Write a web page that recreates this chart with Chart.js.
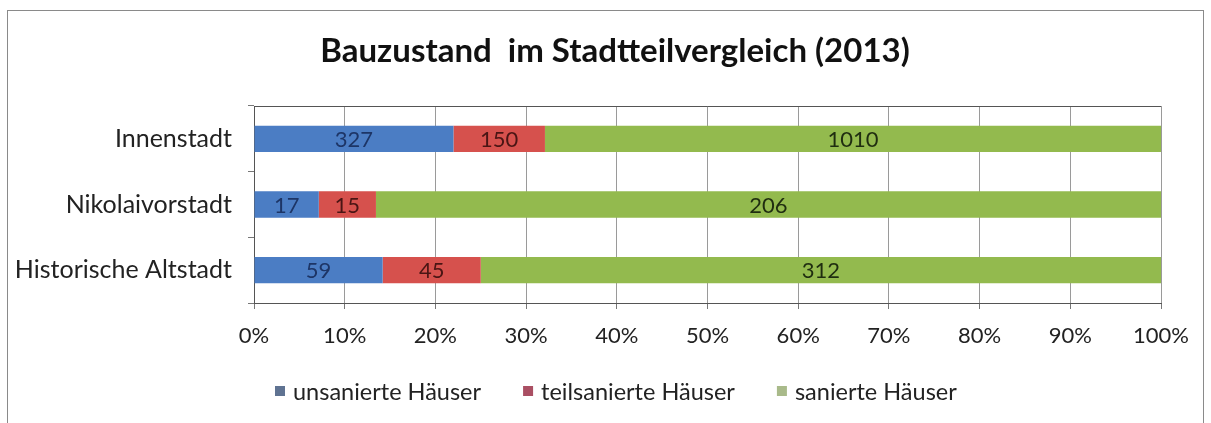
<!DOCTYPE html>
<html><head><meta charset="utf-8">
<script src="https://cdn.jsdelivr.net/npm/chart.js@4"></script>
<style>
html,body{margin:0;padding:0;background:#fff;}
#wrap{position:relative;width:1211px;height:423px;}
#frame{position:absolute;left:7px;top:10px;width:1197px;height:420px;border:1px solid #8a8a8a;box-sizing:border-box;}
canvas{position:absolute;left:0;top:0;}
</style></head>
<body><div id="wrap"><div id="frame"></div><canvas id="c" width="1211" height="423"></canvas></div>
<script>
const categories = ["Innenstadt", "Nikolaivorstadt", "Historische Altstadt"];
const unsaniert = [327, 17, 59];
const teilsaniert = [150, 15, 45];
const saniert = [1010, 206, 312];
const seriesNames = ["unsanierte Häuser", "teilsanierte Häuser", "sanierte Häuser"];
const xTicks = [0,10,20,30,40,50,60,70,80,90,100];
const titleText = "Bauzustand  im Stadtteilvergleich (2013)";

const FONT = "Lato, 'DejaVu Sans', sans-serif";
const totals = categories.map((_, i) => unsaniert[i] + teilsaniert[i] + saniert[i]);
const pct = arr => arr.map((v, i) => v / totals[i] * 100);
const raw = [unsaniert, teilsaniert, saniert];
const legendBox = ['#5f7392', '#aa4f63', '#a9ba8a'];

const labelPlugin = {
  id: 'segLabels',
  afterDatasetsDraw(chart) {
    const ctx = chart.ctx;
    ctx.save();
    ctx.font = "22px " + FONT;
    ctx.textAlign = 'center';
    ctx.textBaseline = 'middle';
    chart.data.datasets.forEach((ds, di) => {
      const meta = chart.getDatasetMeta(di);
      meta.data.forEach((bar, i) => {
        const x = (bar.x + bar.base) / 2;
        ctx.fillStyle = ds.labelColor;
        ctx.fillText(String(raw[di][i]), x, bar.y + 1);
      });
    });
    ctx.restore();
  }
};
const decorPlugin = {
  id: 'decor',
  beforeDatasetsDraw(chart) {
    const a = chart.chartArea, ctx = chart.ctx;
    ctx.save();
    ctx.strokeStyle = '#555';
    ctx.lineWidth = 1;
    ctx.beginPath();
    ctx.moveTo(a.left, a.top + 0.5); ctx.lineTo(a.right, a.top + 0.5);
    ctx.stroke();
    ctx.restore();
  },
  afterDraw(chart) {
    const ctx = chart.ctx;
    ctx.save();
    // title
    ctx.font = "bold 33px " + FONT;
    ctx.fillStyle = '#111';
    ctx.textAlign = 'center';
    ctx.textBaseline = 'middle';
    ctx.fillText(titleText, 615, 51);
    // legend
    ctx.font = "23.5px " + FONT;
    ctx.textAlign = 'left';
    const box = 10, gap = 8, spacing = 42;
    const widths = seriesNames.map(n => box + gap + ctx.measureText(n).width);
    let x = 275;
    const y = 391;
    seriesNames.forEach((n, i) => {
      ctx.fillStyle = legendBox[i];
      ctx.fillRect(x, y - box / 2, box, box);
      ctx.fillStyle = '#222';
      ctx.fillText(n, x + box + gap, y + 1);
      x += widths[i] + spacing;
    });
    ctx.restore();
  }
};

new Chart(document.getElementById('c'), {
  type: 'bar',
  data: {
    labels: categories,
    datasets: [
      {label: seriesNames[0], data: pct(unsaniert), backgroundColor: '#4b7dc4', labelColor: '#1d3566'},
      {label: seriesNames[1], data: pct(teilsaniert), backgroundColor: '#d6514d', labelColor: '#4a1514'},
      {label: seriesNames[2], data: pct(saniert), backgroundColor: '#93ba4e', labelColor: '#1f2d10'}
    ]
  },
  options: {
    indexAxis: 'y',
    responsive: false,
    animation: false,
    devicePixelRatio: 1,
    layout: {padding: {left: 12, right: 50, top: 106, bottom: 60}},
    datasets: {bar: {categoryPercentage: 1, barPercentage: 0.4, borderWidth: 0}},
    scales: {
      x: {
        stacked: true, min: 0, max: 100,
        afterBuildTicks(s) { s.ticks = xTicks.map(v => ({value: v})); },
        afterFit(s) { s.height = 60; },
        grid: {color: '#9a9a9a', lineWidth: 1, drawTicks: true, tickLength: 6, tickColor: '#777'},
        border: {color: '#555'},
        ticks: {callback: v => v + '%', color: '#222', font: {size: 22, family: FONT}, padding: 14, maxRotation: 0}
      },
      y: {
        stacked: true,
        afterFit(s) { s.width = 242; },
        grid: {offset: true, drawOnChartArea: false, drawTicks: true, tickLength: 6, color: '#777'},
        border: {color: '#555'},
        ticks: {color: '#222', font: {size: 25, family: FONT}, padding: 16}
      }
    },
    plugins: {
      title: {display: false},
      legend: {display: false},
      tooltip: {enabled: false}
    }
  },
  plugins: [labelPlugin, decorPlugin]
});
</script></body></html>
